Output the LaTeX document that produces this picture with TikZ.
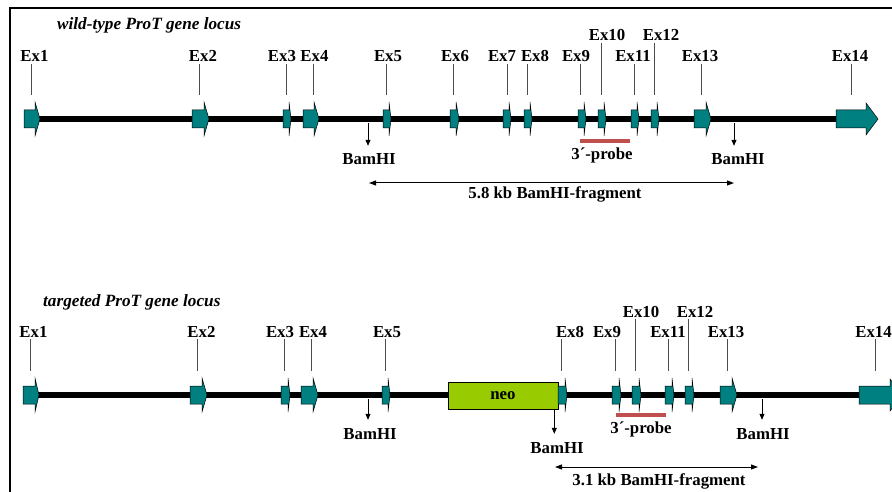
\documentclass[tikz,border=0pt]{standalone}
\usepackage{fontspec}
\setmainfont{Liberation Serif}
\usetikzlibrary{arrows.meta,positioning}

\definecolor{exonteal}{HTML}{008080}
\definecolor{neogreen}{HTML}{99CC00}
\definecolor{probered}{HTML}{C0504D}

% exon: name, left, right, tip, tick x, line y, wing
\newcommand{\exon}[7]{%
  \filldraw[exonbox] (#2,#6-9) -- (#3,#6-9) -- (#3,#6-#7) -- (#4,#6) -- (#3,#6+#7) -- (#3,#6+9) -- (#2,#6+9) -- cycle;
  \coordinate (#1) at (#5,#6-24);
}

\begin{document}
\begin{tikzpicture}[
    x=1pt, y=-1pt,
    exonbox/.style={fill=exonteal, draw=black, line width=0.5pt},
    dna/.style={line width=6pt},
    tick/.style={draw=black!70, line width=0.8pt},
    exlabel/.style={anchor=base, inner sep=2pt, font=\fontsize{16.8}{19}\selectfont\bfseries},
    title/.style={anchor=base west, inner sep=0pt, font=\fontsize{17.2}{20}\selectfont\bfseries\itshape},
    neobox/.style={draw, fill=neogreen, line width=0.6pt, minimum width=110pt, minimum height=27pt, font=\fontsize{16.8}{19}\selectfont\bfseries},
    cut/.style={-{Triangle[length=6pt,width=5pt]}, line width=0.8pt},
    frag/.style={{Triangle[length=7pt,width=5pt]}-{Triangle[length=7pt,width=5pt]}, line width=1pt},
    probe/.style={draw=probered, line width=4pt},
    frame/.style={line width=1.6pt}
]
\clip (0,0) rectangle (892,492);

% Frame
\draw[frame] (892,8) -- (10,8) -- (10,492);

% wild-type locus
\node[title] (wttitle) at (57,30) {wild-type ProT gene locus};
\draw[dna] (24,119) -- (866,119);
\foreach \n/\l/\r/\t/\k/\lx/\ly in {1/24/35/40/31/34.5/62, 2/192/204/209/199/203/62,
    3/283/289/291/286/282/62, 4/303/314/319/313/314.5/62, 5/383/389/391/386/388/62,
    6/450/456/459/453/455/62, 7/503/509/511/507/502/62, 8/524/530/532/527/535/62,
    9/578/584/586/580/576/62, 10/598/604/606/601/607/41, 11/631/637/639/634/633/62,
    12/651/657/659/654/661/41, 13/694/706/711/701/700/62}{
  \exon{w\n}{\l}{\r}{\t}{\k}{119}{17}
  \node[exlabel] (wl\n) at (\lx,\ly) {Ex\n};
  \draw[tick] (wl\n.south -| w\n) -- (w\n);
}
\exon{w14}{836}{866}{878}{851}{119}{16}
\node[exlabel] (wl14) at (850,62) {Ex14};
\draw[tick] (wl14.south -| w14) -- (w14);

\coordinate (wb1) at (368,123);
\coordinate (wb2) at (734,123);
\node[exlabel] (wbl1) at (369,165) {BamHI};
\node[exlabel] (wbl2) at (738,165) {BamHI};
\draw[cut, shorten >=6pt] (wb1) -- (wbl1.north -| wb1);
\draw[cut, shorten >=6pt] (wb2) -- (wbl2.north -| wb2);

\coordinate (wp1) at (580,141);
\coordinate (wp2) at (630,141);
\draw[probe] (wp1) -- (wp2);
\node[exlabel] (wpl) at (602,160) {3´-probe};

\coordinate (wf1) at (369,183);
\coordinate (wf2) at (734,183);
\draw[frag] (wf1) -- (wf2);
\node[exlabel] (wfl) at (555,199) {5.8 kb BamHI-fragment};

% targeted locus
\node[title] (tgtitle) at (43,306) {targeted ProT gene locus};
\draw[dna] (23,395) -- (890,395);
\node[neobox] (neo) at (503,395.5) {neo};
\foreach \n/\l/\r/\t/\k/\lx/\ly in {1/23/35/39/30/33.5/337, 2/190/202/207/197/201.5/337,
    3/281/288/290/284/280/337, 4/301/313/318/311/313/337, 5/382/388/390/385/387/337,
    8/558/565/567/561/570/337, 9/612/619/621/615/607/337, 10/632/639/641/635/641/317,
    11/665/672/674/668/668/337, 12/685/692/694/688/695/317, 13/720/732/737/727/726/337}{
  \exon{t\n}{\l}{\r}{\t}{\k}{395}{17}
  \node[exlabel] (tl\n) at (\lx,\ly) {Ex\n};
  \draw[tick] (tl\n.south -| t\n) -- (t\n);
}
\exon{t14}{859}{890}{902}{875}{395}{16}
\node[exlabel] (tl14) at (873.5,337) {Ex14};
\draw[tick] (tl14.south -| t14) -- (t14);

\coordinate (tb1) at (368,399);
\coordinate (tb3) at (762,399);
\node[exlabel] (tbl1) at (370,439) {BamHI};
\node[exlabel] (tbl2) at (557,453) {BamHI};
\node[exlabel] (tbl3) at (763,439) {BamHI};
\draw[cut, shorten >=6pt] (tb1) -- (tbl1.north -| tb1);
\draw[cut, shorten >=6pt] ([xshift=-4pt]neo.south east) -- ([xshift=-4pt]tbl2.north -| neo.south east);
\draw[cut, shorten >=6pt] (tb3) -- (tbl3.north -| tb3);

\coordinate (tp1) at (616,415);
\coordinate (tp2) at (666,415);
\draw[probe] (tp1) -- (tp2);
\node[exlabel] (tpl) at (641,433) {3´-probe};

\coordinate (tf1) at (555,467);
\coordinate (tf2) at (758,467);
\draw[frag] (tf1) -- (tf2);
\node[exlabel] (tfl) at (659,485) {3.1 kb BamHI-fragment};

\end{tikzpicture}
\end{document}
